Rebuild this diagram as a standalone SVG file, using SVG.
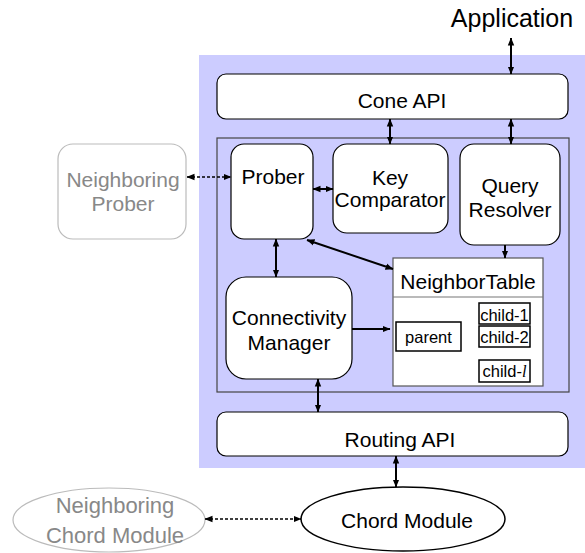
<svg xmlns="http://www.w3.org/2000/svg" width="585" height="553" viewBox="0 0 585 553">
<defs>
<marker id="ah" markerUnits="userSpaceOnUse" markerWidth="8" markerHeight="8" viewBox="0 0 8 8" refX="7.5" refY="4" orient="auto-start-reverse"><path d="M0,0.8 L8,4 L0,7.2 z" fill="#000"/></marker>
<style>
text{font-family:"Liberation Sans",Arial,sans-serif;font-size:21px;fill:#000;text-anchor:middle}
.box{fill:#fff;stroke:#000;stroke-width:1.2}
.gray{fill:#fff;stroke:#bbb;stroke-width:1.2}
.gt{fill:#888}
.sm{font-size:16.5px}
.c{stroke:#000;stroke-width:2;fill:none}
.d{stroke:#000;stroke-width:1.6;stroke-dasharray:3,2;fill:none}
.cb{fill:#fff;stroke:#000;stroke-width:1.5}
</style>
</defs>
<rect x="199" y="55" width="386" height="413" fill="#ccccff"/>
<rect id="core" x="217" y="138" width="352" height="254" fill="none" stroke="#444" stroke-width="1.2"/>
<text x="512" y="27" style="font-size:25px">Application</text>
<g id="cone-api"><rect class="box" x="217" y="74" width="351" height="45" rx="9"/><text x="402" y="108">Cone API</text></g>
<g id="neighboring-prober"><rect class="gray" x="58" y="144" width="128" height="95" rx="15"/><text class="gt" x="123" y="187">Neighboring</text><text class="gt" x="123" y="211">Prober</text></g>
<g id="prober"><rect class="box" x="231" y="144" width="82" height="95" rx="13"/><text x="273" y="184">Prober</text></g>
<g id="key-comparator"><rect class="box" x="333" y="144" width="115" height="89" rx="14"/><text x="390" y="185">Key</text><text x="390" y="207">Comparator</text></g>
<g id="query-resolver"><rect class="box" x="460" y="144" width="100" height="101" rx="14"/><text x="510" y="193">Query</text><text x="510" y="217">Resolver</text></g>
<g id="connectivity-manager"><rect class="box" x="226" y="277" width="126" height="102" rx="20"/><text x="289" y="325">Connectivity</text><text x="289" y="350">Manager</text></g>
<g id="neighbor-table"><rect x="393" y="258" width="150" height="128" fill="#fff" stroke="#555" stroke-width="1.2"/><line x1="393" y1="297" x2="543" y2="297" stroke="#777" stroke-width="1.2"/><text x="468" y="289">NeighborTable</text>
<rect class="cb" x="396" y="322" width="65" height="29" stroke-width="1.2"/><text class="sm" x="428.5" y="343">parent</text>
<rect class="cb" x="479" y="303" width="51" height="21"/><text class="sm" x="504.5" y="321">child-1</text>
<rect class="cb" x="479" y="326" width="51" height="21"/><text class="sm" x="504.5" y="343">child-2</text>
<rect class="cb" x="479" y="360" width="51" height="22" stroke-width="1.2"/><text class="sm" x="504.5" y="377">child-<tspan style="font-family:'Liberation Serif',serif;font-style:italic">l</tspan></text></g>
<g id="routing-api"><rect class="box" x="217" y="412" width="351" height="44" rx="9"/><text x="400" y="447">Routing API</text></g>
<g id="neighboring-chord"><ellipse cx="109" cy="520" rx="96" ry="32" fill="#fff" stroke="#bbb" stroke-width="1.2"/><text class="gt" x="115" y="513" style="font-size:22px">Neighboring</text><text class="gt" x="115" y="543" style="font-size:22px">Chord Module</text></g>
<g id="chord-module"><ellipse cx="403" cy="519" rx="102" ry="32" fill="#fff" stroke="#000" stroke-width="1.5"/><text x="407" y="528">Chord Module</text></g>
<g id="connectors">
<line class="c" x1="511" y1="38" x2="511" y2="74" marker-start="url(#ah)" marker-end="url(#ah)"/>
<line class="c" x1="390" y1="119" x2="390" y2="144" marker-start="url(#ah)" marker-end="url(#ah)"/>
<line class="c" x1="511" y1="119" x2="511" y2="144" marker-start="url(#ah)" marker-end="url(#ah)"/>
<line class="d" x1="187" y1="177" x2="231" y2="177" marker-start="url(#ah)" marker-end="url(#ah)"/>
<line class="c" x1="313" y1="189" x2="333" y2="189" marker-start="url(#ah)" marker-end="url(#ah)"/>
<line class="c" x1="276" y1="239" x2="276" y2="277" marker-start="url(#ah)" marker-end="url(#ah)"/>
<line class="c" x1="307" y1="240" x2="393" y2="269" marker-start="url(#ah)" marker-end="url(#ah)"/>
<line class="c" x1="505" y1="245" x2="505" y2="258" marker-end="url(#ah)"/>
<line class="c" x1="352" y1="329" x2="390" y2="329" marker-end="url(#ah)"/>
<line class="c" x1="318" y1="379" x2="318" y2="412" marker-start="url(#ah)" marker-end="url(#ah)"/>
<line class="c" x1="396" y1="456" x2="396" y2="487" marker-start="url(#ah)" marker-end="url(#ah)"/>
<line class="d" x1="205" y1="519" x2="301" y2="519" marker-start="url(#ah)" marker-end="url(#ah)"/>
</g>
</svg>
